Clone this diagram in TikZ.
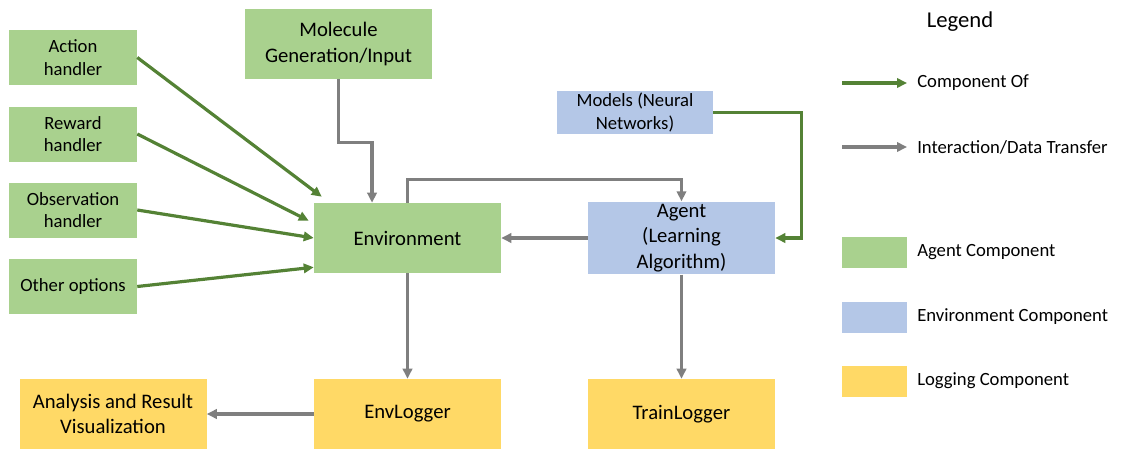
\documentclass[tikz,border=0pt]{standalone}
\usepackage{fontspec}
\setmainfont{Carlito}
\usepackage{xcolor}
\usepackage{tikz}
\usetikzlibrary{
    positioning,
    arrows.meta,
    calc
}
\definecolor{agentgreen}{HTML}{A9D18E}
\definecolor{envblue}{HTML}{B4C7E7}
\definecolor{logyellow}{HTML}{FFD966}
\definecolor{partgreen}{HTML}{548235}
\definecolor{datagray}{HTML}{7F7F7F}
\tikzset{
    big_box/.style={
        rectangle, minimum width=140.25pt, minimum height=52.5pt,
        inner sep=2pt, align=center, font=\fontsize{15.5}{19}\selectfont
    },
    small_box/.style={
        rectangle, minimum width=96pt, minimum height=41.25pt,
        inner sep=2pt, align=center, font=\fontsize{14}{16.8}\selectfont
    },
    part_arrow/.style={
        -{Triangle[length=7.5pt,width=7pt]}, line width=2.4pt, draw=partgreen
    },
    data_arrow/.style={
        -{Triangle[length=7.5pt,width=7pt]}, line width=2.4pt, draw=datagray
    }
}

\begin{document}
\begin{tikzpicture}[
    x=0.75pt, y=-0.75pt,
    agent_fill/.style={fill=agentgreen},
    env_fill/.style={fill=envblue},
    log_fill/.style={fill=logyellow},
    legend_text/.style={anchor=west, inner sep=0pt, font=\fontsize{14}{16.8}\selectfont},
    legend_swatch/.style={rectangle, minimum width=48.75pt, minimum height=23.25pt, inner sep=0pt}
  ]
    \useasboundingbox (0,0) rectangle (1129,457);

    % handlers on the left
    \node[small_box, agent_fill] (action_handler) at (73,57.5) {Action\\handler};
    \node[small_box, agent_fill] (reward_handler) at (73,134) {Reward\\handler};
    \node[small_box, agent_fill] (obs_handler) at (73,210) {Observation\\handler};
    \node[small_box, agent_fill] (other_options) at (73,286.5) {Other options};

    % main blocks
    \node[big_box, agent_fill] (molecule) at (338.5,44) {Molecule\\Generation/Input};
    \node[big_box, agent_fill] (environment) at (407.5,238) {Environment};
    \node[big_box, env_fill] (agent) at (681.5,238) {Agent\\(Learning\\Algorithm)};
    \node[small_box, env_fill, minimum width=117pt, minimum height=30.75pt] (models) at (635,112.5) {Models (Neural\\Networks)};

    % loggers
    \node[big_box, log_fill] (analysis) at (113,414) {Analysis and Result\\Visualization};
    \node[big_box, log_fill] (env_logger) at (407.5,414) {EnvLogger};
    \node[big_box, log_fill] (train_logger) at (681.5,414) {TrainLogger};

    \draw[part_arrow] (action_handler.east) -- ([xshift=6pt,yshift=4.5pt]environment.north west);
    \draw[part_arrow] (reward_handler.east) -- ([xshift=-3.75pt,yshift=-13.5pt]environment.north west);
    \draw[part_arrow] (obs_handler.east) -- (environment.west);
    \draw[part_arrow] (other_options.east) -- ([yshift=4.5pt]environment.south west);
    \draw[part_arrow] (models.east) -- ++(88,0) |- (agent.east);

    \draw[data_arrow] (molecule.south) -- ++(0,63) -| ([xshift=-26.6pt]environment.north);
    \draw[data_arrow] (environment.north) -- ++(0,-23) -| (agent.north);
    \draw[data_arrow] (agent.west) -- (environment.east);
    \draw[data_arrow] (environment.south) -- (env_logger.north);
    \draw[data_arrow] (agent.south) -- (train_logger.north);
    \draw[data_arrow] (env_logger.west) -- (analysis.east);

    % legend
    \node[font=\fontsize{17}{20}\selectfont] (legend_title) at (960,22) {Legend};
    \coordinate (part_start) at (842,83);
    \coordinate (part_end) at (907,83);
    \draw[part_arrow] (part_start) -- (part_end);
    \node[legend_text] (part_label) at (917,83) {Component Of};
    \coordinate (data_start) at (842,147);
    \coordinate (data_end) at (907,147);
    \draw[data_arrow] (data_start) -- (data_end);
    \node[legend_text] (data_label) at (917,147) {Interaction/Data Transfer};

    \node[legend_swatch, agent_fill] (agent_swatch) at (874.5,252.5) {};
    \node[legend_text] (agent_label) at (917,252.5) {Agent Component};
    \node[legend_swatch, env_fill] (env_swatch) at (874.5,317) {};
    \node[legend_text] (env_label) at (917,317) {Environment Component};
    \node[legend_swatch, log_fill] (log_swatch) at (874.5,381) {};
    \node[legend_text] (log_label) at (917,381) {Logging Component};

\end{tikzpicture}
\end{document}
